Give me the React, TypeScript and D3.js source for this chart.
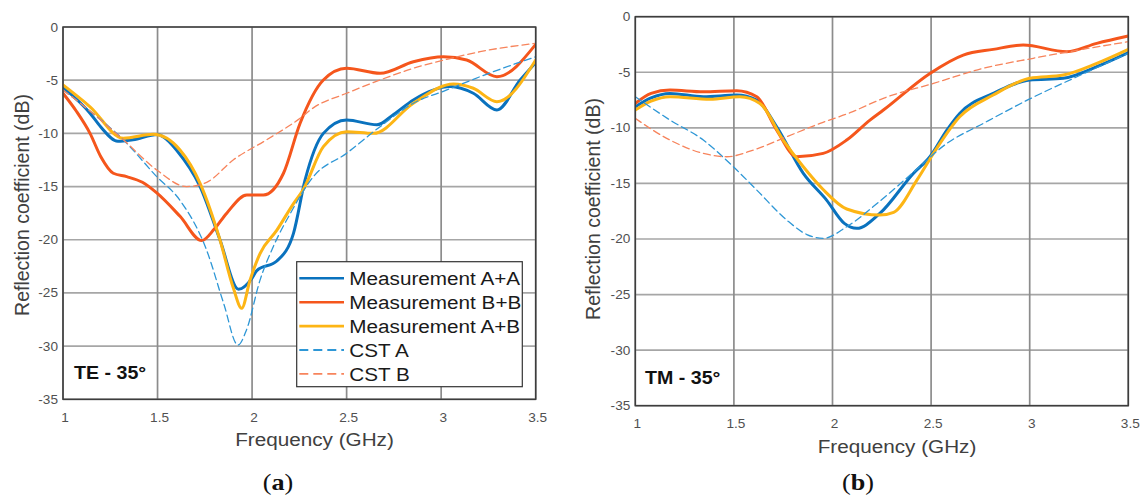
import React from "react";
import * as d3 from "d3";

type Pt = [number, number];

// ---------- axis ticks ----------
const freqTicks = [1, 1.5, 2, 2.5, 3, 3.5];
const freqTickLabels = ["1", "1.5", "2", "2.5", "3", "3.5"];
const dbTicks = [0, -5, -10, -15, -20, -25, -30, -35];
const dbTickLabels = ["0", "-5", "-10", "-15", "-20", "-25", "-30", "-35"];

// ---------- series meta ----------
const seriesNames = ["Measurement A+A", "Measurement B+B", "Measurement A+B", "CST A", "CST B"];
const seriesColors = ["#0A72BE", "#F5561C", "#FDB515", "#2E97D6", "#F7845C"];

// ---------- (a) TE - 35° ----------
const teMeasAA: Pt[] = [[1,-5.67],[1.143,-8.1],[1.2,-9.4],[1.29,-10.75],[1.37,-10.6],[1.5,-10.1],[1.55,-10.6],[1.6,-11.56],[1.725,-15.0],[1.83,-20],[1.928,-24.65],[2.0,-23.6],[2.025,-22.9],[2.131,-22.0],[2.219,-19.4],[2.28,-14.4],[2.377,-10.0],[2.5,-8.74],[2.66,-9.2],[2.75,-8.2],[2.853,-6.86],[3.05,-5.6],[3.17,-6.23],[3.295,-7.8],[3.418,-4.98],[3.5,-3.35]];
const teMeasBB: Pt[] = [[1,-6.23],[1.07,-7.9],[1.143,-10],[1.2,-12.2],[1.266,-13.75],[1.337,-14.07],[1.42,-14.6],[1.496,-15.6],[1.619,-17.8],[1.734,-20.08],[1.8,-19.0],[1.866,-17.5],[1.972,-15.8],[2.06,-15.8],[2.166,-13.75],[2.254,-9.05],[2.377,-4.98],[2.5,-3.88],[2.677,-4.35],[2.853,-3.26],[3.012,-2.79],[3.135,-3.1],[3.295,-4.67],[3.5,-1.63]];
const teMeasAB: Pt[] = [[1,-5.45],[1.143,-7.5],[1.319,-10.46],[1.478,-10.09],[1.619,-11.56],[1.725,-14.7],[1.83,-20],[1.9,-24.5],[1.945,-26.44],[1.989,-23.8],[2.042,-21.3],[2.131,-19.1],[2.219,-16.6],[2.27,-15.3],[2.377,-11.25],[2.5,-9.84],[2.642,-10],[2.853,-7.17],[3.065,-5.36],[3.17,-5.76],[3.295,-7.02],[3.5,-3.1]];
const teCstA: Pt[] = [[1,-5.92],[1.143,-7.9],[1.319,-10.6],[1.496,-14.07],[1.619,-16.3],[1.76,-21.0],[1.85,-26.0],[1.925,-29.9],[1.97,-28.5],[2.042,-23.8],[2.112,-20.65],[2.2,-17.6],[2.324,-14.07],[2.5,-11.87],[2.677,-9.37],[2.853,-7.17],[3.03,-5.92],[3.206,-4.67],[3.5,-2.79]];
const teCstB: Pt[] = [[1,-5.92],[1.143,-7.9],[1.319,-10.6],[1.496,-13.44],[1.654,-15.0],[1.76,-14.6],[1.9,-12.5],[2.077,-10.6],[2.254,-8.58],[2.324,-7.6],[2.5,-6.23],[2.677,-4.98],[2.853,-3.88],[3.03,-3.04],[3.206,-2.32],[3.5,-1.53]];

// ---------- (b) TM - 35° ----------
const tmMeasAA: Pt[] = [[1,-8.1],[1.08,-7.3],[1.176,-6.9],[1.345,-7.2],[1.514,-7.05],[1.616,-7.5],[1.717,-9.9],[1.852,-14.1],[1.97,-16.5],[2.06,-18.6],[2.123,-19.04],[2.24,-17.7],[2.41,-14.1],[2.494,-12.6],[2.58,-10.2],[2.645,-8.7],[2.815,-6.9],[3.0,-5.7],[3.17,-5.54],[3.34,-4.5],[3.5,-3.24]];
const tmMeasBB: Pt[] = [[1,-7.8],[1.08,-6.9],[1.176,-6.6],[1.345,-6.75],[1.514,-6.66],[1.616,-7.2],[1.717,-10.2],[1.818,-12.6],[1.953,-12.3],[2.072,-11.1],[2.19,-9.3],[2.258,-8.4],[2.494,-5.1],[2.663,-3.45],[2.815,-2.94],[2.967,-2.55],[3.188,-3.15],[3.34,-2.4],[3.5,-1.74]];
const tmMeasAB: Pt[] = [[1,-8.4],[1.08,-7.6],[1.176,-7.2],[1.379,-7.43],[1.53,-7.2],[1.632,-7.8],[1.75,-11.1],[1.852,-13.5],[1.95,-15.5],[2.072,-17.3],[2.24,-17.85],[2.31,-17.6],[2.428,-14.7],[2.512,-12.3],[2.645,-9.0],[2.815,-7.05],[3.0,-5.54],[3.17,-5.25],[3.34,-4.2],[3.5,-2.94]];
const tmCstA: Pt[] = [[1,-7.2],[1.176,-9.3],[1.345,-11.1],[1.497,-13.5],[1.616,-15.6],[1.768,-18.3],[1.87,-19.6],[1.953,-19.94],[2.072,-18.9],[2.24,-16.6],[2.41,-14.0],[2.58,-11.4],[2.765,-9.6],[3.0,-7.4],[3.24,-5.4],[3.5,-3.3]];
const tmCstB: Pt[] = [[1,-9.15],[1.176,-11.1],[1.345,-12.3],[1.463,-12.6],[1.598,-12.0],[1.768,-10.8],[1.937,-9.6],[2.089,-8.64],[2.258,-7.34],[2.512,-6.0],[2.765,-4.64],[3.018,-3.74],[3.27,-2.93],[3.5,-2.25]];

const SANS = "'Liberation Sans', Arial, Helvetica, sans-serif";
const SERIF = "'Liberation Serif', 'DejaVu Serif', serif";
const SX = 1.09; // horizontal stretch of the reference's text

const lineWidths = [3, 3, 3, 1.3, 1.3];
const lineDash = [null, null, null, "7,4", "7,4"];

type PanelProps = {
  id: string;
  x0: number; x1: number; y0: number; y1: number;
  series: Pt[][];
  tag: string;
  tagX: number; tagY: number;
  yTitleX: number; yTitleY: number;
  xTitleX: number;
  legend: boolean;
};

function SText(props: { x: number; y: number; anchor?: string; size: number; fill: string; weight?: string; family?: string; children: React.ReactNode }) {
  return (
    <g transform={`translate(${props.x},${props.y}) scale(${SX},1)`}>
      <text x={0} y={0} textAnchor={props.anchor || "start"} fontSize={props.size} fill={props.fill}
        fontWeight={props.weight || "normal"} fontFamily={props.family || SANS}>{props.children}</text>
    </g>
  );
}

function Panel(p: PanelProps) {
  const x = d3.scaleLinear().domain([1, 3.5]).range([p.x0, p.x1]);
  const y = d3.scaleLinear().domain([-35, 0]).range([p.y1, p.y0]);
  const line = d3.line<Pt>().x(d => x(d[0])).y(d => y(d[1])).curve(d3.curveMonotoneX);
  const legX = p.x1 - 239, legY = p.y1 - 137.6, legW = 225.6, legH = 125;
  return (
    <g>
      <defs>
        <clipPath id={p.id}>
          <rect x={p.x0} y={p.y0} width={p.x1 - p.x0} height={p.y1 - p.y0} />
        </clipPath>
      </defs>
      <rect x={p.x0} y={p.y0} width={p.x1 - p.x0} height={p.y1 - p.y0} fill="#fff" />
      {dbTicks.map(t => (
        <line key={"h" + t} x1={p.x0} x2={p.x1} y1={y(t)} y2={y(t)} stroke="#a6a6a6" strokeWidth={1.7} />
      ))}
      {freqTicks.map(t => (
        <line key={"v" + t} x1={x(t)} x2={x(t)} y1={p.y0} y2={p.y1} stroke="#8c8c8c" strokeWidth={1.7} />
      ))}
      <g clipPath={`url(#${p.id})`}>
        {p.series.map((s, i) => (
          <path key={i} d={line(s) || ""} fill="none" stroke={seriesColors[i]} strokeWidth={lineWidths[i]}
            strokeDasharray={lineDash[i] || undefined} strokeLinejoin="round" strokeLinecap="round" />
        ))}
      </g>
      <rect x={p.x0} y={p.y0} width={p.x1 - p.x0} height={p.y1 - p.y0} fill="none" stroke="#3d3d3d" strokeWidth={1.5} />
      {dbTicks.map((t, i) => (
        <SText key={"yl" + t} x={p.x0 - 5} y={y(t) + 4.5} anchor="end" size={12.5} fill="#505050">{dbTickLabels[i]}</SText>
      ))}
      {freqTicks.map((t, i) => (
        <SText key={"xl" + t} x={x(t) + 2} y={p.y1 + 22.5} anchor="middle" size={12.5} fill="#505050">{freqTickLabels[i]}</SText>
      ))}
      <SText x={p.xTitleX} y={p.y1 + 47} anchor="middle" size={19} fill="#404040">Frequency (GHz)</SText>
      <text transform={`translate(${p.yTitleX},${p.yTitleY}) rotate(-90)`} textAnchor="middle" fontSize={19.5}
        fill="#404040" fontFamily={SANS}>Reflection coefficient (dB)</text>
      <SText x={p.tagX} y={p.tagY} size={18} weight="bold" fill="#111">{p.tag}</SText>
      {p.legend && (
        <g>
          <rect x={legX} y={legY} width={legW} height={legH} fill="#fff" stroke="#333" strokeWidth={1.2} />
          {seriesNames.map((n, i) => {
            const cy = legY + 16.6 + i * 23.9;
            return (
              <g key={n}>
                <line x1={legX + 2.6} x2={legX + 47.3} y1={cy} y2={cy} stroke={seriesColors[i]}
                  strokeWidth={i < 3 ? 2.6 : 1.8} strokeDasharray={i < 3 ? undefined : "9,5"} />
                <SText x={legX + 52.6} y={cy + 6.8} size={19} fill="#1a1a1a">{n}</SText>
              </g>
            );
          })}
        </g>
      )}
    </g>
  );
}

export default function App() {
  return (
    <svg width={1146} height={497} style={{ position: "absolute", left: 0, top: 0, background: "#fff" }}>
      <rect x={0} y={0} width={1146} height={497} fill="#fff" />
      <Panel id="clipA" x0={63} x1={535.7} y0={27} y1={399.3}
        series={[teMeasAA, teMeasBB, teMeasAB, teCstA, teCstB]}
        tag="TE - 35°" tagX={74} tagY={378.5} yTitleX={28.5} yTitleY={205} xTitleX={314.5} legend={true} />
      <Panel id="clipB" x0={635.3} x1={1128.3} y0={16.7} y1={405.7}
        series={[tmMeasAA, tmMeasBB, tmMeasAB, tmCstA, tmCstB]}
        tag="TM - 35°" tagX={645} tagY={384} yTitleX={600} yTitleY={209} xTitleX={897} legend={false} />
      <SText x={278} y={490} anchor="middle" size={24} family={SERIF} fill="#111">
        (<tspan fontWeight="bold">a</tspan>)
      </SText>
      <SText x={858} y={490} anchor="middle" size={24} family={SERIF} fill="#111">
        (<tspan fontWeight="bold">b</tspan>)
      </SText>
    </svg>
  );
}
